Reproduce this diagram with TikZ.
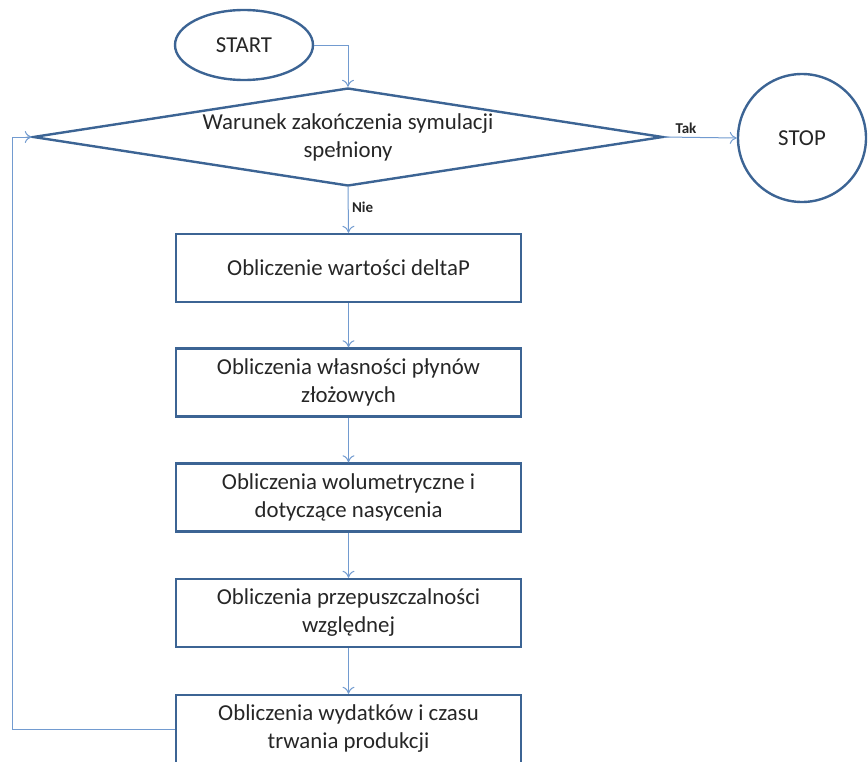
\documentclass[tikz,border=0pt]{standalone}
\usepackage{fontspec}
\setmainfont{Carlito}
\usetikzlibrary{shapes.geometric,arrows.meta}
\definecolor{frameblue}{HTML}{3C6494}
\definecolor{linkblue}{HTML}{729BD0}
\begin{document}
\begin{tikzpicture}[x=1pt,y=-1pt,
  every node/.style={font=\fontsize{22.8}{28}\selectfont, text=black!85},
  outline/.style={draw=frameblue, line width=2.4pt},
  procbox/.style={outline, rectangle, minimum width=345pt, minimum height=68pt,
    align=center, inner sep=0pt},
  link/.style={draw=linkblue, line width=1pt, -{To[length=7pt,width=12pt]}},
  tag/.style={font=\bfseries\fontsize{15}{17}\selectfont}]
  \useasboundingbox (0,0) rectangle (868,761);

  % terminals and decision
  \node[outline, ellipse, minimum width=138pt, minimum height=70pt] (start) at (244,45) {START};
  \node[outline, diamond, shape aspect=6.4, minimum width=630pt, minimum height=98pt,
        inner sep=0pt, align=center] (cond) at (348,137)
        {Warunek zakończenia symulacji\\spełniony};
  \node[outline, circle, minimum size=128pt, inner sep=0pt] (stop) at (802,138) {STOP};

  % processing steps
  \node[procbox] (b1) at (348.5,268) {Obliczenie wartości deltaP};
  \node[procbox] (b2) at (348.5,382.5) {Obliczenia własności płynów\\złożowych};
  \node[procbox] (b3) at (348.5,497.5) {Obliczenia wolumetryczne i\\dotyczące nasycenia};
  \node[procbox] (b4) at (348.5,613) {Obliczenia przepuszczalności\\względnej};
  \node[procbox] (b5) at (348.5,729) {Obliczenia wydatków i czasu\\trwania produkcji};

  % connectors
  \draw[link] (start.east) -| (cond.north);
  \draw[link] (cond.east) -- node[tag, above, pos=0.3] {Tak} (stop.west);
  \draw[link] (cond.south) -- node[tag, right, pos=0.45] {Nie} (b1.north);
  \draw[link] (b1) -- (b2);
  \draw[link] (b2) -- (b3);
  \draw[link] (b3) -- (b4);
  \draw[link] (b4) -- (b5);
  \coordinate (loop) at (12,729);
  \draw[link] (b5.west) -- (loop) |- (cond.west);
\end{tikzpicture}
\end{document}
